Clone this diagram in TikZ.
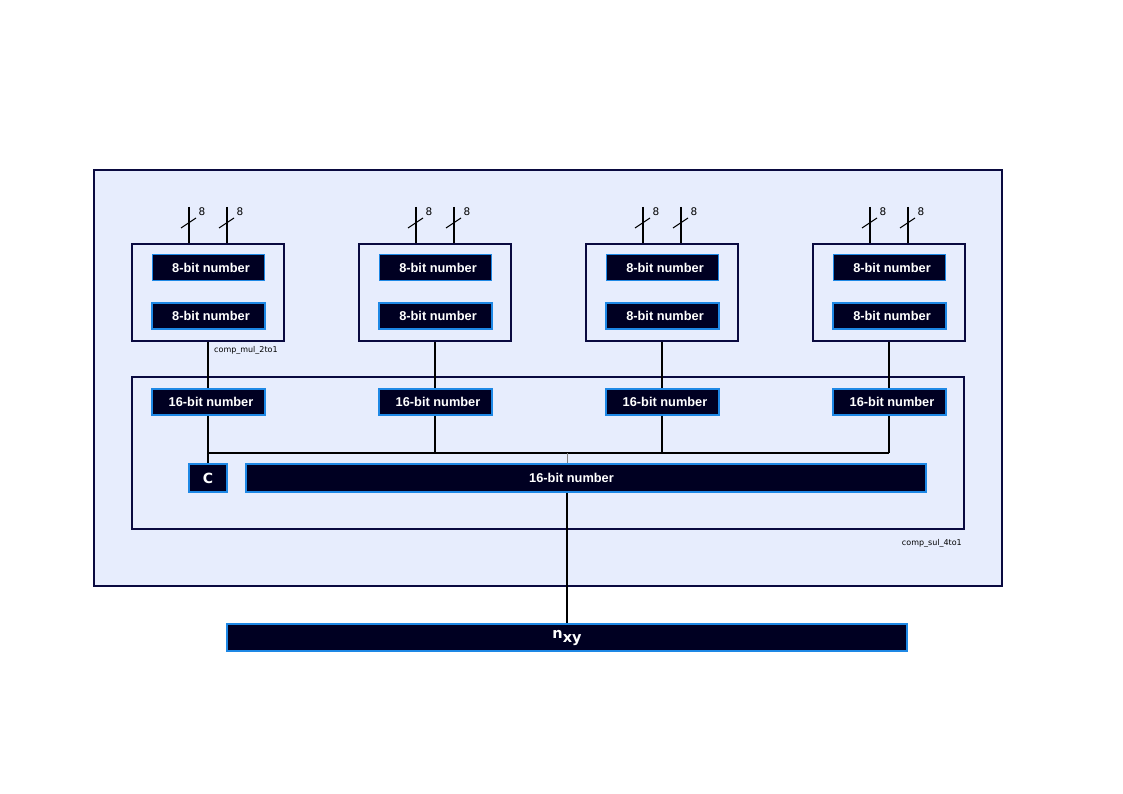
\documentclass[tikz,border=0pt]{standalone}
\usepackage{fontspec}
\newfontfamily\dv{DejaVu Sans}
\newfontfamily\ls{Liberation Sans}
\definecolor{nodefill}{HTML}{000022}
\definecolor{nodeblue}{HTML}{1E88E5}
\definecolor{boxfill}{HTML}{E7EDFD}
\definecolor{boxline}{HTML}{0A0A40}
\tikzset{
  numbox/.style={draw=nodeblue, line width=1.6pt, fill=nodefill, text=white,
    font=\ls\bfseries\fontsize{12.8}{14}\selectfont, inner sep=0pt, minimum height=26pt},
  grpbox/.style={draw=boxline, line width=1.3pt, fill=boxfill, inner sep=0pt},
  wire/.style={line width=1.6pt, black},
  tick/.style={line width=1pt, black},
  small/.style={font=\dv\fontsize{8}{9}\selectfont, inner sep=0pt},
  wlabel/.style={font=\dv\fontsize{10.5}{11}\selectfont, inner sep=0pt}
}
\begin{document}
\begin{tikzpicture}[x=1pt,y=-1pt]
\useasboundingbox (0,0) rectangle (1123,794);
\node[grpbox, minimum width=908pt, minimum height=416pt] (outer) at (548,378) {};
% mul boxes
\foreach \i/\cx in {1/208,2/435,3/662,4/889}{
  \node[grpbox, minimum width=152pt, minimum height=97pt] (m\i) at (\cx,292.5) {};
  \node[numbox, minimum width=112pt] (a\i) at (\cx+0.5,267.5) {\hspace*{5pt}8-bit number};
  \node[numbox, minimum width=113pt] (b\i) at (\cx+0.5,316) {\hspace*{5pt}8-bit number};
  \coordinate (inA\i) at (\cx-19,207);
  \coordinate (inB\i) at (\cx+19,207);
  \draw[wire] (inA\i) -- (inA\i |- m\i.north);
  \draw[wire] (inB\i) -- (inB\i |- m\i.north);
  \draw[tick] ([shift={(-8,5)}]inA\i |- 0,223) -- ([shift={(7,-5)}]inA\i |- 0,223);
  \draw[tick] ([shift={(-8,5)}]inB\i |- 0,223) -- ([shift={(7,-5)}]inB\i |- 0,223);
  \node[wlabel] (la\i) at (\cx-6,212) {8};
  \node[wlabel] (lb\i) at (\cx+32,212) {8};
}
\node[small, anchor=west] (lmul) at (214,350) {comp\_mul\_2to1};
% sul box
\node[grpbox, minimum width=832pt, minimum height=152pt] (sul) at (548,453) {};
\foreach \i/\cx in {1/208,2/435,3/662,4/889}{
  \node[numbox, minimum width=113pt] (s\i) at (\cx+0.5,402) {\hspace*{5pt}16-bit number};
  \draw[wire] (m\i.south -| s\i.north -| \cx,0) -- (\cx,388);
}
\node[numbox, minimum width=38pt, minimum height=28pt, font=\dv\bfseries\fontsize{14}{15}\selectfont] (c) at (208,478) {C};
\node[numbox, minimum width=680pt, minimum height=28pt] (big) at (586,478) {\hspace*{-29pt}16-bit number};
\node[numbox, minimum width=680pt, minimum height=27pt, font=\dv\bfseries\fontsize{14.5}{15}\selectfont] (nxy) at (567,637.5) {n\raisebox{-4pt}{xy}};
\coordinate (bus1) at (208,453);
\coordinate (bus4) at (889,453);
\coordinate (busm) at (567,453);
\draw[wire] (s1.south -| bus1) -- (bus1) -- (bus4);
\draw[wire] (s2.south -| 435,0) -- (435,453);
\draw[wire] (s3.south -| 662,0) -- (662,453);
\draw[wire] (s4.south -| bus4) -- (bus4);
\draw[wire] (bus1) -- (c.north -| bus1);
\draw[line width=0.8pt, gray] (busm) -- (big.north -| busm);
\draw[wire] (big.south -| busm) -- (nxy.north -| busm);
\node[small, anchor=east] (lsul) at (962,543) {comp\_sul\_4to1};
\end{tikzpicture}
\end{document}
